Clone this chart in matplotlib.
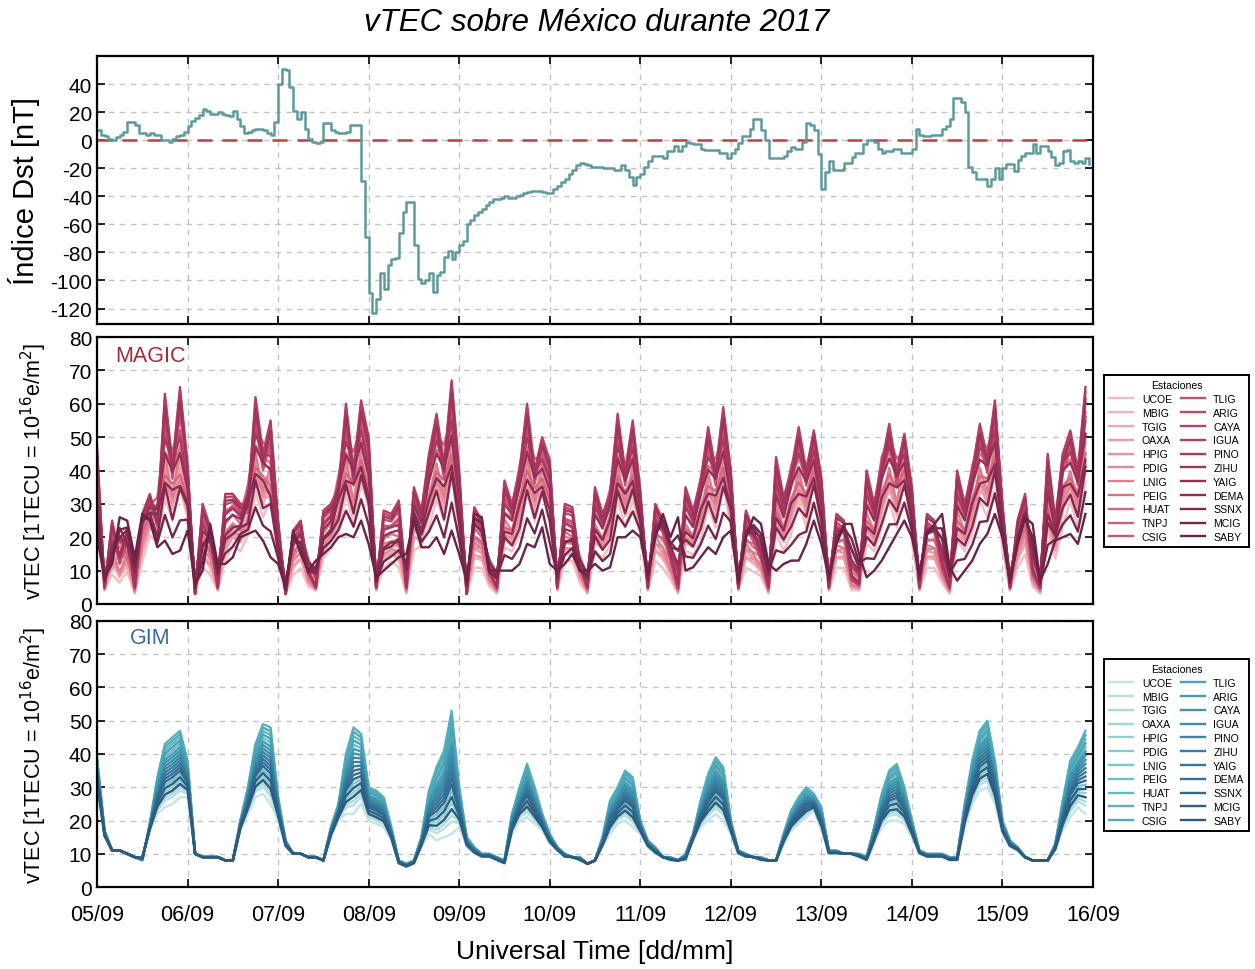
import numpy as np
import matplotlib
matplotlib.use("Agg")
import matplotlib.pyplot as plt
from matplotlib.colors import LinearSegmentedColormap

plt.rcParams['font.family'] = ['Liberation Sans', 'DejaVu Sans']
plt.rcParams['axes.unicode_minus'] = False

day_labels = ["05/09", "06/09", "07/09", "08/09", "09/09", "10/09",
              "11/09", "12/09", "13/09", "14/09", "15/09", "16/09"]

stations = ["UCOE", "MBIG", "TGIG", "OAXA", "HPIG", "PDIG", "LNIG", "PEIG",
            "HUAT", "TNPJ", "CSIG", "TLIG", "ARIG", "CAYA", "IGUA", "PINO",
            "ZIHU", "YAIG", "DEMA", "SSNX", "MCIG", "SABY"]

# hourly Dst index [nT], 05/09 00h -> 15/09 23h
dst = [7, 4, 3, 1, 0, 2, 4, 6, 13, 13, 11, 5, 5, 4, 5, 4, 4, 0, 0, -1, 1, 3, 4, 6,
       10, 14, 16, 18, 22, 21, 19, 19, 20, 19, 18, 17, 21, 15, 10, 5, 6, 7, 8, 8, 7, 5, 4, 13,
       40, 51, 50, 38, 21, 15, 20, 8, 1, -1, -2, -1, 12, 12, 7, 6, 5, 5, 6, 11, 11, 11, -29, -69,
       -109, -123, -113, -95, -106, -89, -85, -84, -66, -51, -44, -44, -75, -99, -102, -100, -95, -108, -96, -94, -83, -79, -85, -80,
       -75, -72, -60, -57, -53, -51, -49, -46, -44, -42, -42, -41, -40, -41, -41, -40, -39, -38, -37, -36, -36, -36, -37, -38,
       -38, -35, -33, -30, -28, -24, -21, -18, -16, -17, -18, -19, -19, -19, -20, -20, -20, -21, -21, -18, -21, -26, -32, -26,
       -24, -19, -15, -11, -11, -11, -13, -8, -8, -4, -8, -4, -1, -2, -3, -3, -6, -7, -7, -7, -7, -9, -9, -13,
       -9, -6, -2, 3, 3, 8, 15, 15, 7, 0, -13, -13, -13, -13, -11, -8, -5, -6, -6, -1, 12, 11, 7, -10,
       -35, -23, -15, -21, -21, -21, -16, -16, -12, -9, -9, -3, 0, 0, -1, -6, -9, -8, -8, -6, -6, -9, -9, -9,
       -6, 8, 4, 3, 3, 4, 4, 4, 8, 10, 15, 30, 30, 27, 20, -19, -23, -28, -28, -28, -33, -28, -20, -28,
       -20, -17, -17, -22, -14, -11, -9, -9, -3, -9, -4, -4, -8, -12, -18, -16, -8, -7, -15, -16, -15, -16, -13, -17]

# MAGIC vTEC, every 2 h (00h ... 22h per day): groups of curves
magic_high = [47, 5, 25, 14, 22, 5, 27, 33, 25, 63, 42, 65,
              42, 3, 30, 23, 5, 33, 33, 30, 30, 62, 45, 55,
              25, 3, 22, 25, 10, 5, 28, 30, 35, 60, 40, 61,
              50, 5, 28, 27, 31, 5, 35, 28, 45, 57, 42, 67,
              40, 3, 29, 25, 10, 5, 37, 30, 40, 60, 40, 50,
              43, 5, 30, 29, 12, 5, 35, 27, 33, 57, 40, 55,
              34, 5, 30, 25, 15, 5, 35, 28, 37, 53, 40, 59,
              40, 5, 28, 22, 15, 5, 44, 32, 40, 53, 40, 52,
              38, 5, 27, 25, 8, 6, 40, 30, 42, 54, 40, 51,
              35, 5, 27, 25, 12, 5, 40, 30, 40, 54, 44, 61,
              30, 5, 25, 33, 10, 5, 45, 25, 45, 52, 40, 65]
magic_mid = [30, 10, 15, 22, 12, 10, 22, 28, 35, 45, 48, 45,
             35, 8, 22, 15, 12, 25, 28, 25, 38, 48, 50, 42,
             18, 8, 15, 20, 15, 10, 22, 25, 40, 45, 48, 50,
             40, 10, 20, 22, 20, 10, 28, 25, 40, 48, 50, 52,
             32, 8, 20, 18, 15, 10, 28, 28, 42, 48, 45, 42,
             38, 10, 22, 20, 15, 10, 28, 25, 35, 45, 42, 45,
             28, 10, 22, 20, 18, 10, 28, 25, 38, 42, 45, 48,
             32, 10, 20, 18, 18, 10, 35, 28, 42, 45, 42, 45,
             30, 10, 20, 20, 12, 10, 32, 28, 45, 48, 45, 44,
             28, 10, 20, 20, 15, 10, 32, 28, 42, 47, 48, 50,
             25, 10, 18, 25, 15, 10, 35, 22, 45, 45, 42, 52]
magic_low = [22, 4, 8, 6, 9, 3, 12, 20, 18, 30, 24, 33,
             25, 3, 10, 8, 4, 12, 17, 15, 20, 32, 25, 30,
             12, 3, 8, 10, 5, 4, 13, 16, 20, 32, 22, 35,
             28, 4, 10, 12, 10, 3, 15, 17, 22, 30, 24, 38,
             20, 3, 10, 10, 5, 3, 16, 15, 20, 32, 24, 35,
             30, 4, 12, 12, 6, 3, 15, 13, 17, 30, 22, 30,
             20, 4, 12, 10, 7, 3, 15, 14, 18, 28, 22, 35,
             22, 4, 10, 9, 8, 3, 20, 15, 20, 30, 22, 38,
             20, 4, 10, 10, 4, 4, 17, 15, 22, 30, 22, 40,
             18, 4, 10, 10, 6, 3, 18, 15, 20, 30, 25, 38,
             16, 4, 10, 14, 5, 3, 20, 13, 22, 30, 22, 35]
magic_flat = [20, 8, 12, 26, 25, 14, 27, 25, 17, 19, 15, 16,
              22, 6, 10, 24, 12, 12, 14, 20, 21, 22, 19, 14,
              12, 5, 22, 15, 10, 13, 15, 17, 20, 21, 20, 25,
              18, 8, 10, 12, 14, 15, 25, 17, 17, 20, 15, 22,
              15, 7, 27, 26, 10, 10, 10, 10, 12, 18, 17, 23,
              12, 10, 12, 15, 10, 10, 12, 10, 11, 20, 20, 22,
              20, 9, 20, 27, 20, 26, 10, 11, 14, 17, 15, 20,
              22, 7, 20, 26, 24, 12, 10, 12, 13, 13, 18, 25,
              18, 8, 18, 24, 24, 15, 8, 10, 13, 17, 21, 25,
              20, 9, 21, 24, 27, 11, 7, 10, 13, 18, 21, 27,
              20, 7, 18, 26, 24, 7, 12, 19, 20, 21, 18, 27]
# share of the high / mid / flat curves for each station (rest is the low curve)
magic_w_high = [0.05, 0.1, 0.25, 0.0, 0.35, 0.1, 0.45, 0.2, 0.1, 0.3, 0.5,
                0.75, 0.85, 0.95, 1.0, 0.4, 0.9, 0.3, 0.1, 0.35, 0.15, 0.0]
magic_w_mid = [0.0, 0.2, 0.0, 0.3, 0.0, 0.3, 0.0, 0.6, 0.5, 0.7, 0.4,
               0.0, 0.0, 0.0, 0.0, 0.5, 0.0, 0.5, 0.5, 0.0, 0.0, 0.0]
magic_w_flat = [0.0, 0.0, 0.0, 0.1, 0.0, 0.15, 0.0, 0.0, 0.2, 0.0, 0.1,
                0.0, 0.0, 0.0, 0.0, 0.1, 0.05, 0.2, 0.4, 0.55, 0.75, 1.0]

# GIM vTEC, every 2 h
gim_high = [39, 17, 11, 11, 10, 9, 8, 19, 33, 43, 45, 47,
            38, 10, 9, 9, 9, 8, 8, 20, 30, 43, 49, 48,
            27, 14, 10, 10, 9, 9, 8, 18, 25, 40, 48, 46,
            30, 29, 27, 18, 8, 7, 8, 15, 29, 36, 41, 53,
            30, 15, 12, 10, 10, 9, 8, 22, 30, 37, 30, 22,
            16, 12, 10, 9, 9, 7, 8, 15, 26, 30, 35, 33,
            20, 14, 12, 9, 9, 8, 10, 16, 26, 34, 39, 36,
            20, 11, 10, 9, 9, 8, 8, 16, 23, 27, 30, 28,
            24, 11, 11, 10, 10, 10, 9, 18, 28, 35, 37, 30,
            20, 11, 10, 10, 10, 9, 9, 25, 38, 47, 50, 38,
            20, 14, 12, 9, 8, 8, 8, 13, 26, 38, 42, 47]
gim_low = [30, 15, 11, 11, 10, 9, 9, 17, 22, 24, 25, 27,
           27, 10, 9, 9, 9, 8, 8, 17, 22, 27, 28, 25,
           20, 12, 10, 10, 9, 9, 8, 15, 20, 22, 22, 25,
           20, 19, 18, 14, 7, 6, 7, 12, 16, 14, 15, 16,
           18, 12, 10, 9, 9, 8, 7, 16, 20, 21, 19, 17,
           13, 11, 9, 9, 8, 7, 8, 12, 16, 19, 20, 18,
           16, 12, 10, 9, 8, 8, 8, 14, 18, 20, 22, 20,
           16, 10, 9, 9, 8, 8, 8, 13, 17, 19, 21, 23,
           17, 10, 10, 10, 10, 9, 8, 13, 18, 20, 20, 19,
           15, 10, 9, 9, 9, 8, 8, 18, 25, 29, 30, 25,
           16, 12, 11, 9, 8, 8, 8, 11, 17, 21, 24, 22]
gim_w_high = [0.0, 0.1, 0.15, 0.2, 0.25, 0.3, 0.35, 0.8, 0.9, 1.0, 0.95,
              0.85, 0.75, 0.7, 0.65, 0.6, 0.55, 0.5, 0.45, 0.4, 0.3, 0.2]

t_dst = np.arange(len(dst)) / 24.0
t_tec = np.arange(len(magic_high)) * 2 / 24.0

magic_cmap = LinearSegmentedColormap.from_list(
    "magic", ["#f6bcc0", "#e8909c", "#d3637b", "#c0456a", "#9a3058", "#6a2345"])
gim_cmap = LinearSegmentedColormap.from_list(
    "gim", ["#c3e6e5", "#8fd0d1", "#5cb6c0", "#3f98b0", "#36779c", "#2d5a7f"])

fig = plt.figure(figsize=(12.55, 9.7), dpi=100)
ax1 = fig.add_axes([0.0773, 0.665, 0.7936, 0.2762])
ax2 = fig.add_axes([0.0773, 0.3763, 0.7936, 0.2752])
ax3 = fig.add_axes([0.0773, 0.0845, 0.7936, 0.2743])

for ax in (ax1, ax2, ax3):
    ax.set_xlim(0, 11)
    ax.set_xticks(range(12))
    ax.grid(True, color="#c4c4c4", linestyle=(0, (4, 4)), linewidth=1.0)
    ax.set_axisbelow(True)
    ax.tick_params(direction="in", top=True, right=True, length=6, width=1.2,
                   labelsize=15)
    ax.tick_params(axis="x", pad=12)
    for sp in ax.spines.values():
        sp.set_linewidth(1.6)

ax1.set_xticklabels([])
ax2.set_xticklabels([])
ax3.set_xticklabels(day_labels, fontsize=15.5)

# Dst
ax1.axhline(0, color="#b8433b", linestyle=(0, (6, 4)), linewidth=1.8)
ax1.step(t_dst, dst, where="post", color="#5e9a9c", linewidth=1.8)
ax1.set_ylim(-131, 60)
ax1.set_yticks(range(-120, 41, 20))
ax1.set_ylabel("Índice Dst [nT]", fontsize=21, labelpad=7)

mh = np.array(magic_high)
mm = np.array(magic_mid)
ml = np.array(magic_low)
mf = np.array(magic_flat)
gh = np.array(gim_high)
gl = np.array(gim_low)

n = len(stations)
for i, name in enumerate(stations):
    wh = magic_w_high[i]
    wm = magic_w_mid[i]
    wf = magic_w_flat[i]
    vals = (1 - wh - wm - wf) * ml + wh * mh + wm * mm + wf * mf
    ax2.plot(t_tec, vals, color=magic_cmap(i / (n - 1)), linewidth=1.7, label=name)
for i, name in enumerate(stations):
    wh = gim_w_high[i]
    vals = (1 - wh) * gl + wh * gh
    ax3.plot(t_tec, vals, color=gim_cmap(i / (n - 1)), linewidth=1.7, label=name)

for ax in (ax2, ax3):
    ax.set_ylim(0, 80)
    ax.set_yticks(range(0, 81, 10))
    ax.set_ylabel("vTEC [1TECU = 10$^{16}$e/m$^2$]", fontsize=15.5, labelpad=14)
    leg = ax.legend(loc="upper left", bbox_to_anchor=(1.011, 0.858), borderaxespad=0,
                    ncol=2, fontsize=7.6, title="Estaciones", title_fontsize=7.6,
                    fancybox=False, edgecolor="black", framealpha=1,
                    handlelength=2.3, columnspacing=0.8, labelspacing=0.36,
                    handletextpad=0.8, borderpad=0.5)
    leg.get_frame().set_linewidth(1.4)

ax2.text(0.018, 0.93, "MAGIC", transform=ax2.transAxes, color="#a8283a",
         fontsize=15.5, va="center", ha="left")
ax3.text(0.033, 0.936, "GIM", transform=ax3.transAxes, color="#3c6a96",
         fontsize=15.5, va="center", ha="left")

ax3.set_xlabel("Universal Time [dd/mm]", fontsize=19, labelpad=10)
fig.suptitle("vTEC sobre México durante 2017", fontsize=22.5, style="italic",
             x=0.475, y=0.992, va="top")

fig.savefig("out.png", dpi=100)
